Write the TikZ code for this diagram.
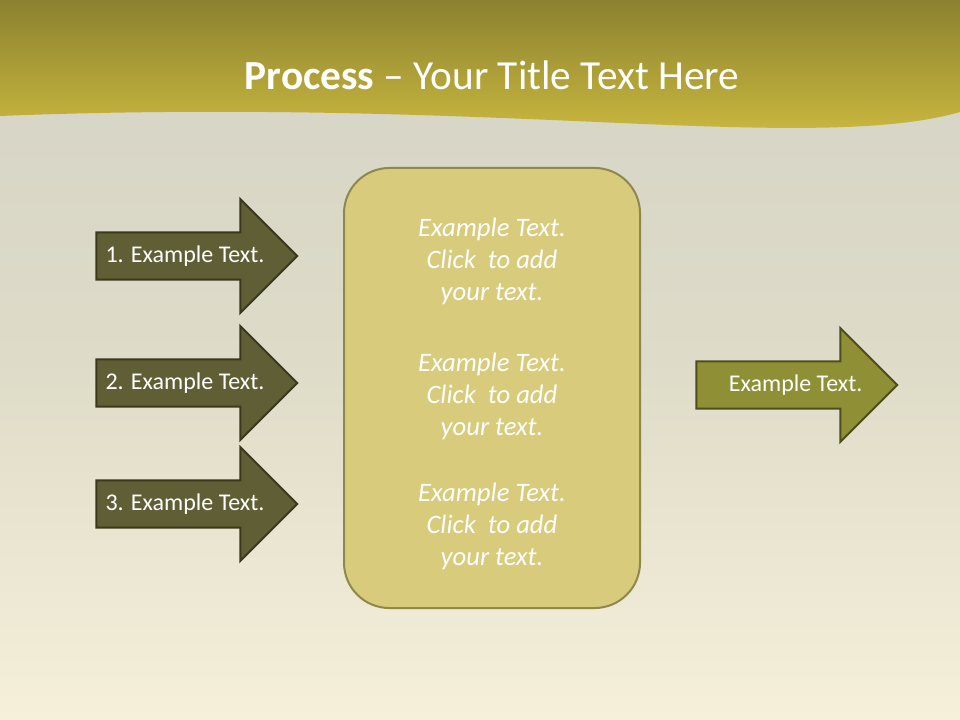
\documentclass[tikz,border=0pt]{standalone}
\usepackage{fontspec}
\setmainfont{Carlito}
\usetikzlibrary{shapes.arrows}
\definecolor{bandtop}{HTML}{8B8130}
\definecolor{bandbot}{HTML}{C9B73E}
\definecolor{bgtop}{HTML}{D5D3C6}
\definecolor{bgmid}{HTML}{DEDBC8}
\definecolor{bgbot}{HTML}{F6F0DA}
\definecolor{darkfill}{HTML}{5F5E35}
\definecolor{darkline}{HTML}{3A391B}
\definecolor{litefill}{HTML}{8F9035}
\definecolor{liteline}{HTML}{4D4D1D}
\definecolor{boxfill}{HTML}{D8CB7B}
\definecolor{boxline}{HTML}{8D884C}
\tikzset{
  steparrow/.style={single arrow, draw=darkline, fill=darkfill, line width=1.5pt,
    minimum height=150.75pt, minimum width=85.5pt, single arrow head extend=12pt,
    single arrow tip angle=90, inner sep=0pt, text=white,
    font=\fontsize{18}{22}\selectfont},
  outarrow/.style={steparrow, draw=liteline, fill=litefill},
  clicktext/.style={text=white, align=center, font=\fontsize{20}{24}\selectfont\itshape}
}
\begin{document}
\begin{tikzpicture}[x=0.75pt,y=-0.75pt]
                    \useasboundingbox (0,0) rectangle (960,720);%

                    % Drawing background
                    \shade [top color=bgtop, bottom color=bgbot, middle color=bgmid] (0,0) rectangle (960,720);%

                    % Drawing title band
                    \shade [top color=bandtop, bottom color=bandbot] (0,0) -- (960,0) -- (960,112)
                        .. controls (890,132) and (780,130) .. (620,123)
                        .. controls (460,116) and (250,106) .. (0,116) -- cycle;%
                    \node (title) at (492,75) {\fontsize{31}{37}\selectfont\color{white}\textbf{Process} -- Your Title Text Here};%

                    % Drawing step arrows
                    \node (stepa) [steparrow] at (185,256) {1. Example Text.};%
                    \node (stepb) [steparrow] at (185,383) {2. Example Text.};%
                    \node (stepc) [steparrow] at (185,504) {3. Example Text.};%

                    % Drawing middle box
                    \node (midbox) [draw=boxline, fill=boxfill, line width=1.5pt, rounded corners=34pt,
                        minimum width=222pt, minimum height=330pt] at (492,388) {};%
                    \node (clicka) [clicktext] at (492,261) {Example Text.\\Click~ to add\\your text.};%
                    \node (clickb) [clicktext] at (492,396) {Example Text.\\Click~ to add\\your text.};%
                    \node (clickc) [clicktext] at (492,526) {Example Text.\\Click~ to add\\your text.};%

                    % Drawing result arrow
                    \node (result) [outarrow] at (785,385) {\hspace*{16pt}Example Text.};%
\end{tikzpicture}
\end{document}
